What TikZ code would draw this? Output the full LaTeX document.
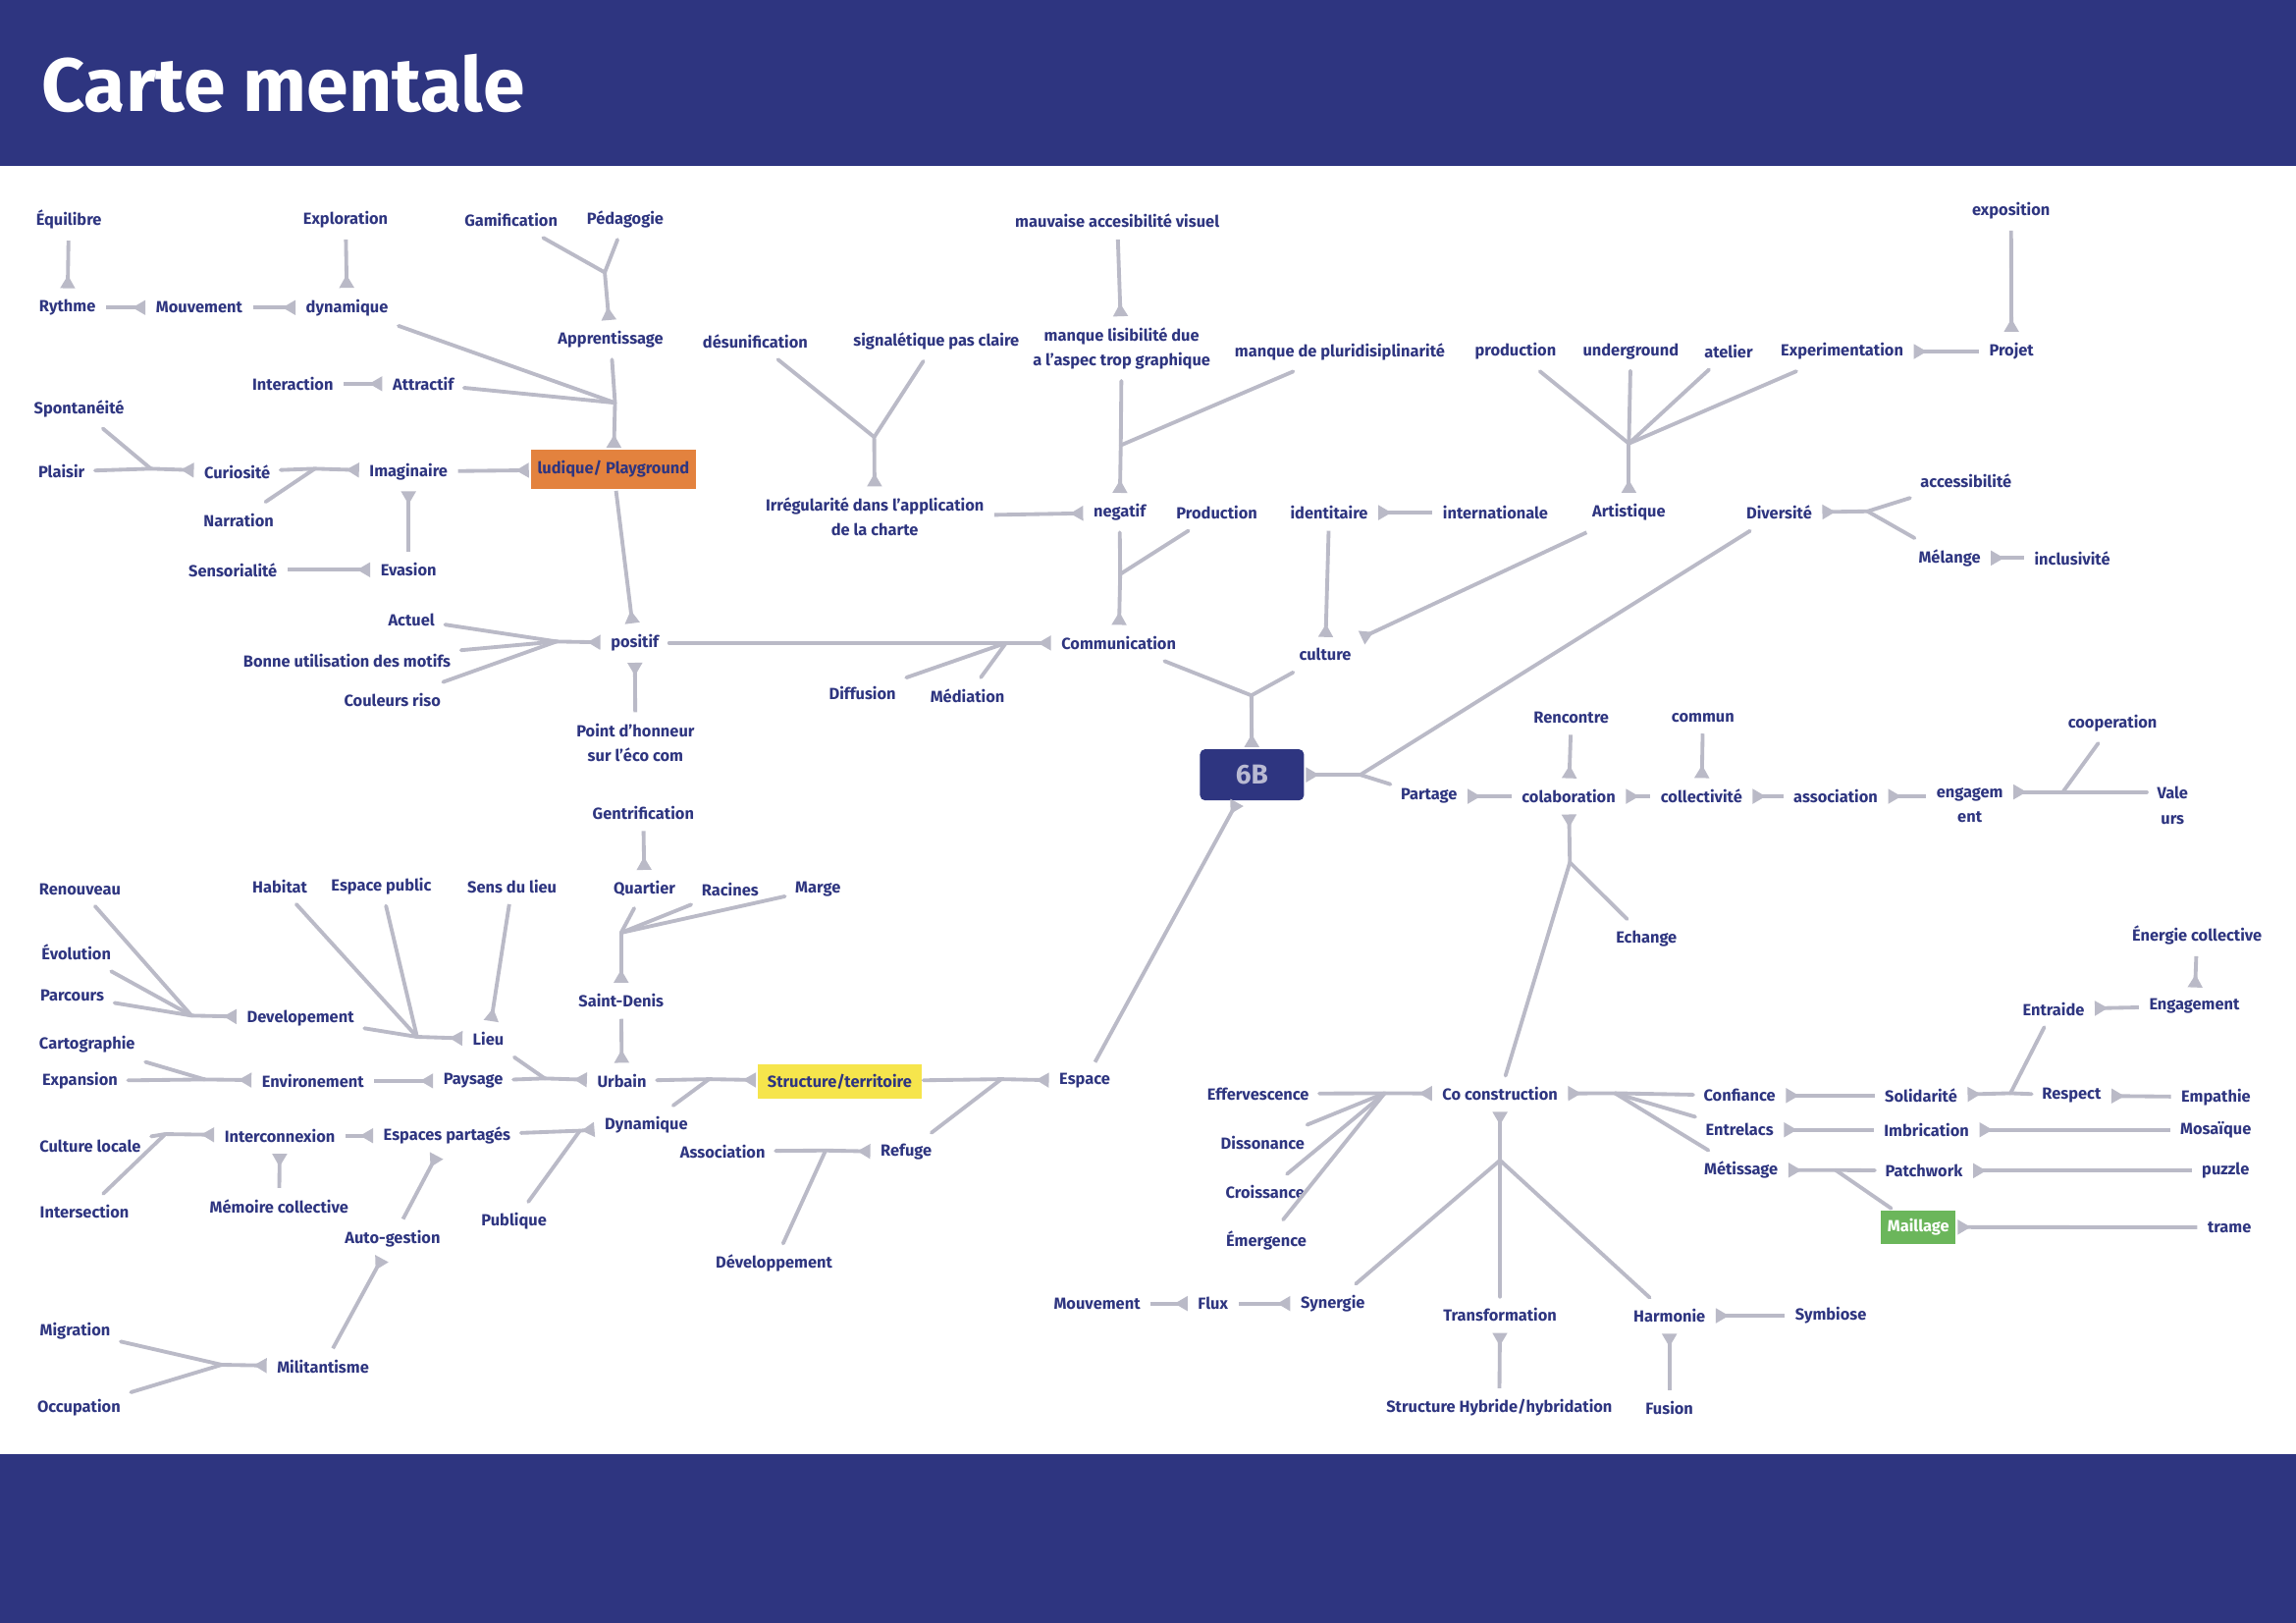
\documentclass[tikz,border=0pt]{standalone}
\usepackage{fontspec}
\setmainfont{Fira Sans}
\usetikzlibrary{arrows.meta}
\definecolor{navy}{RGB}{46,53,128}
\definecolor{lin}{RGB}{186,186,199}
\definecolor{orng}{RGB}{227,130,62}
\definecolor{yell}{RGB}{246,229,76}
\definecolor{grn}{RGB}{107,182,91}
\definecolor{lav}{RGB}{185,186,210}
\begin{document}
\begin{tikzpicture}[
  x=0.015cm, y=-0.015cm,
  lbl/.style={font=\fontsize{4.7}{7.2}\selectfont\bfseries, text=navy, inner xsep=1mm, inner ysep=1.1mm, align=center},
  hub/.style={lbl, inner sep=0pt, outer sep=0.6pt},
  link/.style={draw=lin, line width=1.1pt, {Triangle[reversed,length=1.35mm,width=1.45mm]}-},
  twig/.style={draw=lin, line width=1.1pt, line cap=round}
]
\useasboundingbox (0,0) rectangle (1568,1108);
\fill[white] (0,0) rectangle (1568,1108);
\fill[navy] (0,0) rectangle (1568,113);
\fill[navy] (0,993) rectangle (1568,1108);
\node[anchor=west, inner sep=0pt, text=white, font=\fontsize{22}{26}\selectfont\bfseries] (title) at (28,57) {Carte mentale};

% boxes
\node[hub, fill=orng, minimum width=1.69cm, minimum height=0.4cm] (ludique) at (418.9,320.4) {ludique/ Playground};
\node[hub, fill=navy, rounded corners=1.5pt, minimum width=1.065cm, minimum height=0.525cm, text=lav, font=\fontsize{8}{9}\selectfont\bfseries] (sixb) at (855,529) {6B};
\node[hub, fill=yell, minimum width=1.674cm, minimum height=0.36cm] (struct) at (573.4,738.4) {Structure/territoire};
\node[hub, fill=grn, minimum width=0.762cm, minimum height=0.342cm, text=white] (maill) at (1310.1,837.8) {Maillage};

% top left
\node[lbl] (equi) at (47,150) {Équilibre};
\node[lbl] (explo) at (236,150) {Exploration};
\node[lbl] (gami) at (349,150) {Gamification};
\node[lbl] (peda) at (427,150) {Pédagogie};
\node[lbl] (rythme) at (46,210) {Rythme};
\node[lbl] (mouv) at (136,210) {Mouvement};
\node[lbl] (dyna) at (237,210) {dynamique};
\node[lbl] (appr) at (417,232) {Apprentissage};
\node[lbl] (inter) at (200,262) {Interaction};
\node[lbl] (attr) at (289,262) {Attractif};
\node[lbl] (spont) at (54,279) {Spontanéité};
\node[lbl] (plaisir) at (42,322) {Plaisir};
\node[lbl] (curio) at (162,322) {Curiosité};
\node[lbl] (imag) at (279,322) {Imaginaire};
\node[lbl] (narr) at (163,355) {Narration};
\node[lbl] (senso) at (159,389) {Sensorialité};
\node[lbl] (evasion) at (279,389) {Evasion};
\node[lbl] (actuel) at (281,423) {Actuel};
\node[lbl] (bonne) at (237,451) {Bonne utilisation des motifs};
\node[lbl] (couleurs) at (268,478) {Couleurs riso};
\node[lbl] (positif) at (433.5,439) {positif};
\node[lbl] (honneur) at (434,507) {Point d'honneur\\sur l'éco com};

% top middle
\node[lbl] (desun) at (515.8,233) {désunification};
\node[lbl] (signal) at (639.4,233) {signalétique pas claire};
\node[lbl] (irreg) at (597.4,353) {Irrégularité dans l'application\\de la charte};
\node[lbl] (mauvaise) at (763,151) {mauvaise accesibilité visuel};
\node[lbl] (manque) at (766,238) {manque lisibilité due\\a l'aspec trop graphique};
\node[lbl] (pluri) at (915,240) {manque de pluridisiplinarité};
\node[lbl] (negatif) at (764.6,350) {negatif};
\node[lbl] (prod) at (831,350) {Production};
\node[lbl] (ident) at (907.7,350) {identitaire};
\node[lbl] (internat) at (1021.3,350) {internationale};
\node[lbl] (comm) at (764,439) {Communication};
\node[lbl] (diffusion) at (589,473) {Diffusion};
\node[lbl] (mediation) at (660.7,475) {Médiation};
\node[lbl] (culture) at (905,447) {culture};

% top right
\node[lbl] (production) at (1035,240) {production};
\node[lbl] (underground) at (1113.7,240) {underground};
\node[lbl] (atelier) at (1180.5,240) {atelier};
\node[lbl] (experim) at (1258,240) {Experimentation};
\node[lbl] (projet) at (1373.7,240) {Projet};
\node[lbl] (expo) at (1373.4,144) {exposition};
\node[lbl] (artist) at (1112.4,350) {Artistique};
\node[lbl] (divers) at (1215,350) {Diversité};
\node[lbl] (access) at (1342.6,328) {accessibilité};
\node[lbl] (melange) at (1331.4,381) {Mélange};
\node[lbl] (inclus) at (1415.2,381) {inclusivité};

% centre right
\node[lbl] (partage) at (975.9,543.7) {Partage};
\node[lbl] (colab) at (1071.3,543.7) {colaboration};
\node[lbl] (rencontre) at (1073,490) {Rencontre};
\node[lbl] (commun) at (1163,490) {commun};
\node[lbl] (collect) at (1162,543.7) {collectivité};
\node[lbl] (assoc) at (1253.6,543.7) {association};
\node[lbl] (engag) at (1345.2,550) {engagem\\ent};
\node[lbl] (coop) at (1442.7,494) {cooperation};
\node[lbl] (valeurs) at (1483.7,550) {Vale\\urs};
\node[lbl] (echange) at (1124.4,640.6) {Echange};

% bottom left
\node[lbl] (renouv) at (54.6,607) {Renouveau};
\node[lbl] (evol) at (52.1,650) {Évolution};
\node[lbl] (parcours) at (49.3,680) {Parcours};
\node[lbl] (devel) at (205.2,695) {Developement};
\node[lbl] (habitat) at (191.1,605) {Habitat};
\node[lbl] (espub) at (260.4,605) {Espace public};
\node[lbl] (sens) at (349.7,605) {Sens du lieu};
\node[lbl] (lieu) at (333.5,709.5) {Lieu};
\node[lbl] (carto) at (59.5,713.3) {Cartographie};
\node[lbl] (expan) at (54.6,738) {Expansion};
\node[lbl] (envir) at (213.7,738) {Environement};
\node[lbl] (paysage) at (323.2,738) {Paysage};
\node[lbl] (urbain) at (424.7,738) {Urbain};
\node[lbl] (gentri) at (439.3,555) {Gentrification};
\node[lbl] (quartier) at (440.1,607) {Quartier};
\node[lbl] (racines) at (498.6,607) {Racines};
\node[lbl] (marge) at (558.6,607) {Marge};
\node[lbl] (stdenis) at (424.2,683.3) {Saint-Denis};
\node[lbl] (espace) at (740.8,738) {Espace};
\node[lbl] (dynam) at (441.4,768.3) {Dynamique};
\node[lbl] (assoc2) at (493.5,786) {Association};
\node[lbl] (refuge) at (618.9,786.6) {Refuge};
\node[lbl] (develop) at (528.6,862.6) {Développement};
\node[lbl] (cultloc) at (61.6,782.6) {Culture locale};
\node[lbl] (interco) at (191.1,775.4) {Interconnexion};
\node[lbl] (espart) at (305.3,775.4) {Espaces partagés};
\node[lbl] (memoire) at (190.6,823.5) {Mémoire collective};
\node[lbl] (intersec) at (57.7,827.3) {Intersection};
\node[lbl] (publique) at (351,834) {Publique};
\node[lbl] (autog) at (268.1,845.8) {Auto-gestion};
\node[lbl] (migr) at (51.3,908.8) {Migration};
\node[lbl] (milit) at (220.6,933) {Militantisme};
\node[lbl] (occup) at (53.9,961.3) {Occupation};

% bottom right
\node[lbl] (cocons) at (1024.4,746.8) {Co construction};
\node[lbl] (efferv) at (859.2,746.8) {Effervescence};
\node[lbl] (disson) at (862.3,780.3) {Dissonance};
\node[lbl] (croiss) at (864,813.9) {Croissance};
\node[lbl] (emerg) at (864.8,847) {Émergence};
\node[lbl] (mouv2) at (749.2,890) {Mouvement};
\node[lbl] (flux) at (828.4,890) {Flux};
\node[lbl] (synerg) at (910.2,890) {Synergie};
\node[lbl] (transf) at (1024.4,897.7) {Transformation};
\node[lbl] (harmo) at (1140.1,898.3) {Harmonie};
\node[lbl] (symb) at (1250.3,898.3) {Symbiose};
\node[lbl] (hybrid) at (1023.9,961.3) {Structure Hybride/hybridation};
\node[lbl] (fusion) at (1140.1,961.3) {Fusion};
\node[lbl] (confi) at (1188,748) {Confiance};
\node[lbl] (entrel) at (1188,771.4) {Entrelacs};
\node[lbl] (metis) at (1189,799) {Métissage};
\node[lbl] (solid) at (1311.9,748) {Solidarité};
\node[lbl] (imbric) at (1315.7,771.4) {Imbrication};
\node[lbl] (patch) at (1313.9,799.3) {Patchwork};
\node[lbl] (respect) at (1414.7,748) {Respect};
\node[lbl] (empath) at (1513.3,749) {Empathie};
\node[lbl] (mosaic) at (1513.2,771.4) {Mosaïque};
\node[lbl] (puzzle) at (1519.9,799.3) {puzzle};
\node[lbl] (trame) at (1522.5,838) {trame};
\node[lbl] (entraide) at (1402.4,689) {Entraide};
\node[lbl] (engag2) at (1498.6,687) {Engagement};
\node[lbl] (energie) at (1500.4,638.6) {Énergie collective};

% junctions
\coordinate (j_app) at (413,186);
\coordinate (j_lud) at (420,275);
\coordinate (j_imag) at (215,320);
\coordinate (j_cur) at (103,320);
\coordinate (j_pos) at (380,438);
\coordinate (j_com) at (687,439);
\coordinate (j_irr) at (597,298.4);
\coordinate (j_neg) at (765.4,304);
\coordinate (j_comm) at (765,392);
\coordinate (j_art) at (1112.4,302.8);
\coordinate (j_top) at (854.6,474.8);
\coordinate (j_right) at (929,529);
\coordinate (j_div) at (1275.4,349.1);
\coordinate (j_col) at (1072.1,588.8);
\coordinate (j_eng) at (1408.8,540.7);
\coordinate (j_sol) at (1373,746.4);
\coordinate (j_met) at (1253.6,798.9);
\coordinate (j_ccl) at (945.6,746.4);
\coordinate (j_ccr) at (1102.9,746.4);
\coordinate (j_ccd) at (1024.4,792.2);
\coordinate (j_lieu) at (284.8,707.9);
\coordinate (j_urb) at (372,736.3);
\coordinate (j_env) at (139.8,737);
\coordinate (j_dev) at (130.8,693.4);
\coordinate (j_int) at (112.9,774.3);
\coordinate (j_dyn) at (396,772);
\coordinate (j_mil) at (151.4,931.8);
\coordinate (j_str) at (484.2,736.8);
\coordinate (j_esp) at (683.8,736.8);
\coordinate (j_ref) at (563.8,785.5);
\coordinate (j_sd) at (424.2,636.8);

% ludique side
\draw[link] (rythme) -- (equi);
\draw[link] (mouv) -- (rythme);
\draw[link] (dyna) -- (mouv);
\draw[link] (dyna) -- (explo);
\draw[link] (appr) -- (j_app);
\draw[twig] (gami) -- (j_app);
\draw[twig] (peda) -- (j_app);
\draw[link] (ludique) -- (j_lud);
\draw[twig] (appr) -- (j_lud);
\draw[twig] (dyna) -- (j_lud);
\draw[twig] (attr) -- (j_lud);
\draw[link] (attr) -- (inter);
\draw[link] (ludique) -- (imag);
\draw[link] (imag) -- (j_imag);
\draw[twig] (curio) -- (j_imag);
\draw[twig] (narr) -- (j_imag);
\draw[link] (curio) -- (j_cur);
\draw[twig] (plaisir) -- (j_cur);
\draw[twig] (spont) -- (j_cur);
\draw[link] (imag) -- (evasion);
\draw[link] (evasion) -- (senso);
\draw[link] (positif) -- (ludique);
\draw[link] (positif) -- (j_pos);
\draw[twig] (actuel) -- (j_pos);
\draw[twig] (bonne) -- (j_pos);
\draw[twig] (couleurs) -- (j_pos);
\draw[link] (positif) -- (honneur);

% communication side
\draw[link] (comm) -- (j_com);
\draw[twig] (positif) -- (j_com);
\draw[twig] (diffusion) -- (j_com);
\draw[twig] (mediation) -- (j_com);
\draw[link] (comm) -- (j_comm);
\draw[twig] (negatif) -- (j_comm);
\draw[twig] (prod) -- (j_comm);
\draw[link] (negatif) -- (j_neg);
\draw[twig] (manque) -- (j_neg);
\draw[twig] (pluri) -- (j_neg);
\draw[link] (manque) -- (mauvaise);
\draw[link] (negatif) -- (irreg);
\draw[link] (irreg) -- (j_irr);
\draw[twig] (desun) -- (j_irr);
\draw[twig] (signal) -- (j_irr);
\draw[link] (sixb) -- (j_top);
\draw[twig] (comm) -- (j_top);
\draw[twig] (culture) -- (j_top);
\draw[link] (culture) -- (ident);
\draw[link] (ident) -- (internat);
\draw[link] (culture) -- (artist);
\draw[link] (artist) -- (j_art);
\draw[twig] (production) -- (j_art);
\draw[twig] (underground) -- (j_art);
\draw[twig] (atelier) -- (j_art);
\draw[twig] (experim) -- (j_art);
\draw[link] (experim) -- (projet);
\draw[link] (projet) -- (expo);

% partage side
\draw[link] (sixb) -- (j_right);
\draw[twig] (partage) -- (j_right);
\draw[twig] (divers) -- (j_right);
\draw[link] (divers) -- (j_div);
\draw[twig] (access) -- (j_div);
\draw[twig] (melange) -- (j_div);
\draw[link] (melange) -- (inclus);
\draw[link] (partage) -- (colab);
\draw[link] (colab) -- (collect);
\draw[link] (colab) -- (rencontre);
\draw[link] (collect) -- (commun);
\draw[link] (collect) -- (assoc);
\draw[link] (assoc) -- (assoc -| engag.west);
\draw[link] (engag.east |- j_eng) -- (j_eng);
\draw[twig] (coop) -- (j_eng);
\draw[twig] (valeurs.west |- j_eng) -- (j_eng);
\draw[link] (colab) -- (j_col);
\draw[twig] (echange) -- (j_col);
\draw[twig] (cocons) -- (j_col);

% co construction
\draw[link] (cocons) -- (j_ccl);
\draw[twig] (efferv) -- (j_ccl);
\draw[twig] (disson) -- (j_ccl);
\draw[twig] (croiss) -- (j_ccl);
\draw[twig] (emerg) -- (j_ccl);
\draw[link] (cocons) -- (j_ccr);
\draw[twig] (confi) -- (j_ccr);
\draw[twig] (entrel) -- (j_ccr);
\draw[twig] (metis) -- (j_ccr);
\draw[link] (cocons) -- (j_ccd);
\draw[twig] (synerg) -- (j_ccd);
\draw[twig] (transf) -- (j_ccd);
\draw[twig] (harmo) -- (j_ccd);
\draw[link] (synerg) -- (flux);
\draw[link] (flux) -- (mouv2);
\draw[link] (transf) -- (hybrid);
\draw[link] (harmo) -- (fusion);
\draw[link] (harmo) -- (symb);
\draw[link] (confi) -- (solid);
\draw[link] (solid) -- (j_sol);
\draw[twig] (respect) -- (j_sol);
\draw[twig] (entraide) -- (j_sol);
\draw[link] (respect) -- (empath);
\draw[link] (entraide) -- (engag2);
\draw[link] (engag2) -- (energie);
\draw[link] (entrel) -- (imbric);
\draw[link] (imbric) -- (mosaic);
\draw[link] (metis) -- (j_met);
\draw[twig] (patch) -- (j_met);
\draw[twig] (maill) -- (j_met);
\draw[link] (patch) -- (puzzle);
\draw[link] (maill) -- (trame);

% espace side
\draw[link] (sixb) -- (espace);
\draw[link] (espace) -- (j_esp);
\draw[twig] (struct) -- (j_esp);
\draw[twig] (refuge) -- (j_esp);
\draw[link] (refuge) -- (j_ref);
\draw[twig] (assoc2) -- (j_ref);
\draw[twig] (develop) -- (j_ref);
\draw[link] (struct) -- (j_str);
\draw[twig] (urbain) -- (j_str);
\draw[twig] (dynam) -- (j_str);
\draw[link] (urbain) -- (stdenis);
\draw[link] (stdenis) -- (j_sd);
\draw[twig] (quartier) -- (j_sd);
\draw[twig] (racines) -- (j_sd);
\draw[twig] (marge) -- (j_sd);
\draw[link] (quartier) -- (gentri);
\draw[link] (urbain) -- (j_urb);
\draw[twig] (lieu) -- (j_urb);
\draw[twig] (paysage) -- (j_urb);
\draw[link] (lieu) -- (j_lieu);
\draw[twig] (devel) -- (j_lieu);
\draw[twig] (habitat) -- (j_lieu);
\draw[twig] (espub) -- (j_lieu);
\draw[link] (lieu) -- (sens);
\draw[link] (devel) -- (j_dev);
\draw[twig] (renouv) -- (j_dev);
\draw[twig] (evol) -- (j_dev);
\draw[twig] (parcours) -- (j_dev);
\draw[link] (paysage) -- (envir);
\draw[link] (envir) -- (j_env);
\draw[twig] (expan) -- (j_env);
\draw[twig] (carto) -- (j_env);
\draw[link] (dynam) -- (j_dyn);
\draw[twig] (espart) -- (j_dyn);
\draw[twig] (publique) -- (j_dyn);
\draw[link] (espart) -- (interco);
\draw[link] (interco) -- (j_int);
\draw[twig] (cultloc) -- (j_int);
\draw[twig] (intersec) -- (j_int);
\draw[link] (interco) -- (memoire);
\draw[link] (espart) -- (autog);
\draw[link] (autog) -- (milit);
\draw[link] (milit) -- (j_mil);
\draw[twig] (migr) -- (j_mil);
\draw[twig] (occup) -- (j_mil);
\end{tikzpicture}
\end{document}
